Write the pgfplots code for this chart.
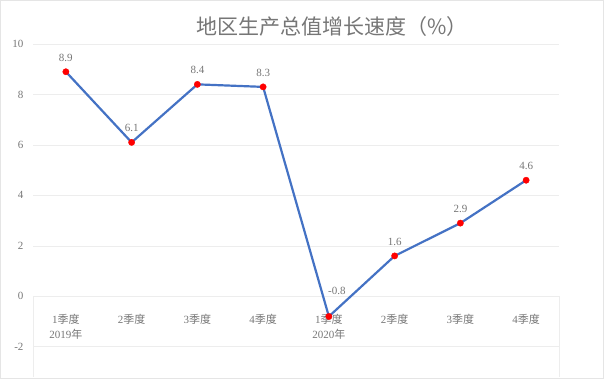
\documentclass[border=0pt]{standalone}
\usepackage{pgfplots}
\pgfplotsset{compat=1.18}
\usepackage{fontspec}
\setmainfont{Liberation Serif}
\newfontfamily\cjk{Noto Sans CJK SC}
\definecolor{linecol}{RGB}{68,114,196}
\definecolor{txt}{RGB}{118,118,118}
\newcommand\jd{{\cjk 季度}}
\newcommand\nian{{\cjk 年}}
\begin{document}
\begin{tikzpicture}
\begin{axis}[
  scale only axis,
  width=526pt, height=333pt,
  xmin=-0.5, xmax=7.5, ymin=-3.2, ymax=10,
  axis x line*=middle, axis y line*=left,
  hide obscured x ticks=false, hide obscured y ticks=false,
  axis line style={draw=none},
  tick style={draw=none},
  ymajorgrids, grid style={color=black!7, line width=0.6pt},
  ytick={-2,0,2,4,6,8,10},
  xtick={0,1,2,3,4,5,6,7},
  xticklabels={{1\jd\\2019\nian},{2\jd},{3\jd},{4\jd},{1\jd\\2020\nian},{2\jd},{3\jd},{4\jd}},
  xticklabel style={align=center, font=\fontsize{11}{15}\selectfont, text=txt, yshift=-14pt},
  yticklabel style={font=\fontsize{11}{13}\selectfont, text=txt, xshift=-6pt},
  /pgf/number format/assume math mode=true,
  point meta=explicit symbolic,
  every node near coord/.append style={font=\fontsize{11}{13}\selectfont, text=txt, yshift=7pt},
  clip=false,
]
\path ([shift={(-33pt,-4pt)}]rel axis cs:0,0) rectangle ([shift={(45pt,44pt)}]rel axis cs:1,1);
\draw[black!10, line width=0.6pt] ([shift={(-32.5pt,-1pt)}]rel axis cs:0,0) rectangle ([shift={(44.3pt,43.7pt)}]rel axis cs:1,1);
\node[text=txt, font=\cjk\fontsize{21}{24}\selectfont] at ([shift={(299pt,17pt)}]rel axis cs:0,1) {地区生产总值增长速度（\%）};
\draw[black!7, line width=0.6pt] (axis cs:-0.5,0) -- (axis cs:-0.5,-3.2);
\draw[black!7, line width=0.6pt] (axis cs:7.5,0) -- (axis cs:7.5,-3.2);
\addplot[color=linecol, line width=2.2pt, mark=*, mark size=3.2pt,
  mark options={fill=red, draw=red, line width=0.3pt}, nodes near coords]
  coordinates {(0,8.9)[8.9] (1,6.1)[6.1] (2,8.4)[8.4] (3,8.3)[8.3] (4,-0.8)[] (5,1.6)[1.6] (6,2.9)[2.9] (7,4.6)[4.6]};
\addplot[draw=none, mark=none, nodes near coords,
  every node near coord/.append style={yshift=11pt, xshift=8pt}]
  coordinates {(4,-0.8)[-0.8]};
\end{axis}
\end{tikzpicture}
\end{document}
